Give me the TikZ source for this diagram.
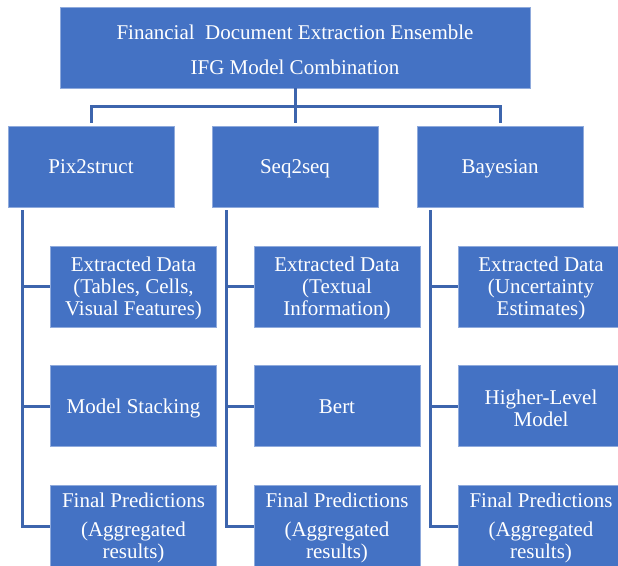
\documentclass[tikz,border=0pt]{standalone}
\usepackage{fontspec}
\setmainfont{Liberation Serif}
\newfontfamily\boxfont{Liberation Serif}
\usetikzlibrary{positioning,calc}
\definecolor{boxblue}{HTML}{4472C4}
\definecolor{linkblue}{HTML}{3D65AD}
\definecolor{edgeblue}{HTML}{8FAADC}
\newcommand{\lift}{\rule{0pt}{14.25pt}}

\begin{document}
\begin{tikzpicture}[x=0.75pt, y=-0.75pt, node distance=28.5pt,
        every node/.append style={font=\boxfont\fontsize{15.75pt}{16.5pt}\selectfont, text=white, align=center},
        link/.style={draw=linkblue, line width=2.25pt},
        oneline/.style={text height=14pt, text depth=3.5pt}]
      \tikzstyle{block} = [fill=boxblue, draw=edgeblue, line width=0.6pt, minimum width=124.5pt, minimum height=60.75pt, inner sep=0pt]
      \tikzstyle{wide} = [block, minimum width=352.5pt]
      \useasboundingbox (0,0) rectangle (618,566);
      % top and the three models
      \node (IFG) [wide] at (295,47.5) {\lift Financial\ \ Document Extraction Ensemble\\[9.75pt]IFG Model Combination};
      \node (pix) [block, oneline] at (91,166.5) {Pix2struct};
      \node (seq) [block, oneline] at (295,166.5) {Seq2seq};
      \node (bay) [block, oneline] at (500,166.5) {Bayesian};
      % what each model gives
      \node (expix) [block] at (133.5,286.5) {\lift Extracted Data\\(Tables, Cells,\\Visual Features)};
      \node (stackpix) [block, oneline, below=of expix] {Model Stacking};
      \node (finpix) [block, below=of stackpix] {\lift Final Predictions\\[5.25pt](Aggregated\\results)};
      \node (exseq) [block] at (337,286.5) {\lift Extracted Data\\(Textual\\Information)};
      \node (bertseq) [block, oneline, below=of exseq] {Bert};
      \node (finseq) [block, below=of bertseq] {\lift Final Predictions\\[5.25pt](Aggregated\\results)};
      \node (exbay) [block] at (541,286.5) {\lift Extracted Data\\(Uncertainty\\Estimates)};
      \node (highbay) [block, below=of exbay] {\lift Higher-Level\\Model};
      \node (finbay) [block, below=of highbay] {\lift Final Predictions\\[5.25pt](Aggregated\\results)};
      % bus under the top box
      \coordinate (bus) at ($(IFG.south)!0.5!(seq.north)$);
      \draw[link, shorten >=2.25pt] (IFG.south) -- (seq.north);
      \draw[link, shorten >=2.25pt] (bus) -| (pix.north);
      \draw[link, shorten >=2.25pt] (bus) -| (bay.north);
      % spines
      \coordinate (pixspine) at ([xshift=11.25pt,yshift=-2.25pt]pix.south west);
      \coordinate (seqspine) at ([xshift=11.25pt,yshift=-2.25pt]seq.south west);
      \coordinate (bayspine) at ([xshift=10.5pt,yshift=-2.25pt]bay.south west);
      \draw[link] (pixspine) |- (finpix.west);
      \draw[link] (pixspine |- expix.west) -- (expix.west);
      \draw[link] (pixspine |- stackpix.west) -- (stackpix.west);
      \draw[link] (seqspine) |- (finseq.west);
      \draw[link] (seqspine |- exseq.west) -- (exseq.west);
      \draw[link] (seqspine |- bertseq.west) -- (bertseq.west);
      \draw[link] (bayspine) |- (finbay.west);
      \draw[link] (bayspine |- exbay.west) -- (exbay.west);
      \draw[link] (bayspine |- highbay.west) -- (highbay.west);
    \end{tikzpicture}
\end{document}
